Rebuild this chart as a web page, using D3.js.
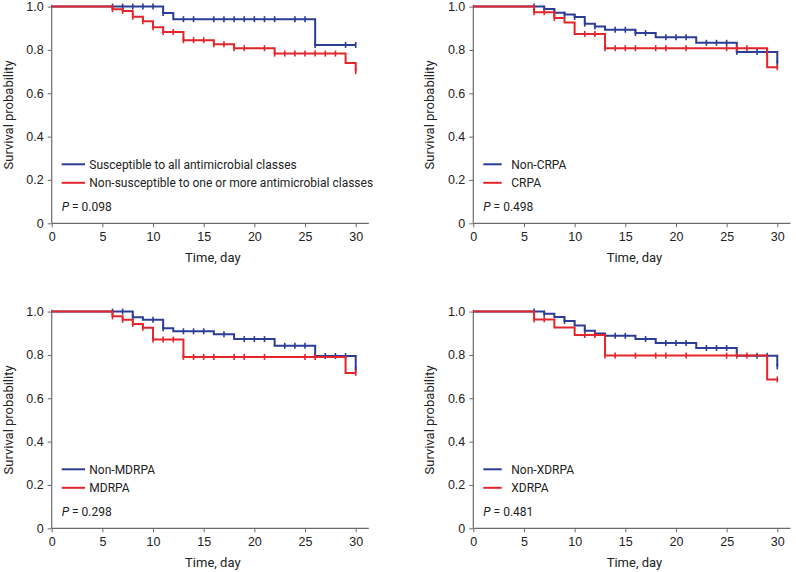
<!DOCTYPE html>
<html><head><meta charset="utf-8">
<script src="https://cdn.jsdelivr.net/npm/d3@7"></script>
<style>body{margin:0;background:#fff}</style>
</head><body>
<svg id="c" width="796" height="572"></svg>
<script>
// ---- data ----
const xTicks = [0, 5, 10, 15, 20, 25, 30];
const yTicks = [0, 0.2, 0.4, 0.6, 0.8, 1.0];
const seriesColors = ["#2c3d96", "#e4262c"];
const legendLabels = [
  ["Susceptible to all antimicrobial classes", "Non-susceptible to one or more antimicrobial classes"],
  ["Non-CRPA", "CRPA"],
  ["Non-MDRPA", "MDRPA"],
  ["Non-XDRPA", "XDRPA"]
];
const pValues = ["0.098", "0.498", "0.298", "0.481"];

// Panel 1: susceptible (blue) vs non-susceptible (red)
const p1BlueTime = [0, 11, 12, 26];
const p1BlueSurv = [1.0, 0.970, 0.942, 0.823];
const p1BlueCens = [6, 7, 8, 9, 10, 11, 13, 14, 16, 17, 18, 19, 20, 21, 22, 24, 25, 26, 29, 30];
const p1RedTime = [0, 6, 7, 8, 9, 10, 11, 13, 16, 18, 22, 29, 30];
const p1RedSurv = [1.0, 0.988, 0.980, 0.953, 0.932, 0.905, 0.883, 0.845, 0.826, 0.808, 0.783, 0.740, 0.702];
const p1RedCens = [6, 7, 8, 9, 10, 11, 12, 13, 14, 15, 16, 17, 18, 19, 21, 22, 23, 24, 25, 26, 27, 28, 30];

// Panel 2: Non-CRPA (blue) vs CRPA (red)
const p2BlueTime = [0, 7, 8, 9, 10, 11, 12, 13, 16, 18, 22, 26, 30];
const p2BlueSurv = [1.0, 0.989, 0.972, 0.963, 0.952, 0.921, 0.908, 0.893, 0.878, 0.858, 0.833, 0.791, 0.737];
const p2BlueCens = [6, 7, 8, 9, 10, 11, 12, 14, 15, 16, 17, 19, 20, 21, 23, 24, 25, 26, 28, 29, 30];
const p2RedTime = [0, 6, 8, 9, 10, 13, 29];
const p2RedSurv = [1.0, 0.974, 0.947, 0.927, 0.874, 0.808, 0.720];
const p2RedCens = [6, 7, 8, 11, 12, 13, 14, 15, 16, 18, 19, 21, 25, 26, 27, 30];

// Panel 3: Non-MDRPA (blue) vs MDRPA (red)
const p3BlueTime = [0, 8, 9, 11, 12, 16, 18, 22, 26, 30];
const p3BlueSurv = [1.0, 0.974, 0.962, 0.923, 0.909, 0.895, 0.873, 0.842, 0.795, 0.731];
const p3BlueCens = [6, 7, 8, 10, 11, 13, 14, 15, 17, 19, 20, 21, 23, 24, 25, 27, 28, 29, 30];
const p3RedTime = [0, 6, 7, 8, 9, 10, 13, 29];
const p3RedSurv = [1.0, 0.978, 0.962, 0.943, 0.926, 0.871, 0.791, 0.717];
const p3RedCens = [6, 7, 8, 9, 10, 11, 12, 13, 14, 15, 16, 18, 19, 21, 25, 26, 30];

// Panel 4: Non-XDRPA (blue) vs XDRPA (red)
const p4BlueTime = [0, 7, 8, 9, 10, 11, 12, 13, 16, 18, 22, 26, 30];
const p4BlueSurv = [1.0, 0.990, 0.975, 0.957, 0.936, 0.912, 0.899, 0.888, 0.874, 0.855, 0.832, 0.796, 0.747];
const p4BlueCens = [6, 7, 9, 11, 12, 14, 15, 17, 19, 20, 21, 23, 24, 25, 28, 29, 30];
const p4RedTime = [0, 6, 8, 10, 13, 29];
const p4RedSurv = [1.0, 0.964, 0.927, 0.892, 0.797, 0.687];
const p4RedCens = [6, 7, 11, 12, 13, 14, 16, 18, 19, 21, 25, 26, 27, 30];

// ---- layout ----
const svg = d3.select("#c");
const PW = 304, PH = 216.7;
const panels = [
  {ox: 51.7, oy: 223.3, short: false, s: [[p1BlueTime, p1BlueSurv, p1BlueCens], [p1RedTime, p1RedSurv, p1RedCens]]},
  {ox: 473.3, oy: 223.3, short: true, s: [[p2BlueTime, p2BlueSurv, p2BlueCens], [p2RedTime, p2RedSurv, p2RedCens]]},
  {ox: 51.7, oy: 528.3, short: false, s: [[p3BlueTime, p3BlueSurv, p3BlueCens], [p3RedTime, p3RedSurv, p3RedCens]]},
  {ox: 473.3, oy: 528.3, short: true, s: [[p4BlueTime, p4BlueSurv, p4BlueCens], [p4RedTime, p4RedSurv, p4RedCens]]}
];
const tickFont = "'Liberation Sans', Arial, sans-serif";
const textFont = "Roboto, 'Noto Sans', sans-serif";
const axisColor = "#6b6b6b";

function survAt(times, surv, t) {
  let v = surv[0];
  for (let i = 0; i < times.length; i++) if (times[i] <= t) v = surv[i];
  return v;
}

panels.forEach((p, pi) => {
  const x = d3.scaleLinear().domain([0, 30]).range([p.ox, p.ox + PW]);
  const y = d3.scaleLinear().domain([0, 1]).range([p.oy, p.oy - PH]);
  const g = svg.append("g");

  // x axis
  const xa = g.append("g").attr("transform", `translate(0,${p.oy})`)
    .call(d3.axisBottom(x).tickValues(xTicks).tickSize(4).tickSizeOuter(0).tickPadding(5).tickFormat(d3.format("d")));
  xa.select(".domain").remove();
  xa.selectAll(".tick line").attr("stroke", axisColor);
  xa.selectAll("text").attr("font-family", tickFont).attr("font-size", 12.5).attr("fill", "#222");
  g.append("line").attr("x1", x(0)).attr("x2", x(31.3)).attr("y1", y(0)).attr("y2", y(0))
    .attr("stroke", axisColor).attr("stroke-width", 1.2);

  // y axis
  const ya = g.append("g").attr("transform", `translate(${p.ox},0)`)
    .call(d3.axisLeft(y).tickValues(yTicks).tickSize(4).tickSizeOuter(0).tickPadding(4)
      .tickFormat(d => d === 0 ? "0" : d3.format(".1f")(d)));
  ya.select(".domain").remove();
  ya.selectAll(".tick line").attr("stroke", axisColor);
  ya.selectAll("text").attr("font-family", tickFont).attr("font-size", 12.5).attr("fill", "#222");
  g.append("line").attr("x1", x(0)).attr("x2", x(0)).attr("y1", y(0)).attr("y2", y(1.008))
    .attr("stroke", axisColor).attr("stroke-width", 1.2);

  // axis titles
  g.append("text").attr("x", x(15.9)).attr("y", p.oy + 39)
    .attr("text-anchor", "middle").attr("font-family", textFont).attr("font-size", 13).attr("fill", "#222")
    .text("Time, day");
  g.append("text").attr("transform", `translate(${p.ox - 39},${y(0.5)}) rotate(-90)`)
    .attr("text-anchor", "middle").attr("font-family", textFont).attr("font-size", 13).attr("fill", "#222")
    .text("Survival probability");

  // curves (blue first, red on top)
  const line = d3.line().x(d => x(d[0])).y(d => y(d[1])).curve(d3.curveStepAfter);
  p.s.forEach((ser, si) => {
    const [times, surv, cens] = ser;
    const pts = times.map((t, i) => [t, surv[i]]);
    if (times[times.length - 1] < 30) pts.push([30, surv[surv.length - 1]]);
    g.append("path").datum(pts).attr("d", line).attr("fill", "none")
      .attr("stroke", seriesColors[si]).attr("stroke-width", 2);
    g.selectAll(null).data(cens).enter().append("line")
      .attr("x1", d => x(d)).attr("x2", d => x(d))
      .attr("y1", d => y(survAt(times, surv, d)) - 3).attr("y2", d => y(survAt(times, surv, d)) + 3)
      .attr("stroke", seriesColors[si]).attr("stroke-width", 1.6);
  });

  // legend
  const lx0 = p.ox + 10, lx1 = p.short ? p.ox + 28.4 : p.ox + 33.3, tx = p.short ? p.ox + 38 : p.ox + 37.6;
  const ly = [p.oy - 59, p.oy - 40.5];
  legendLabels[pi].forEach((lab, si) => {
    g.append("line").attr("x1", lx0).attr("x2", lx1).attr("y1", ly[si]).attr("y2", ly[si])
      .attr("stroke", seriesColors[si]).attr("stroke-width", 2);
    g.append("text").attr("x", tx).attr("y", ly[si]).attr("dy", "0.36em")
      .attr("font-family", textFont).attr("font-size", 12).attr("fill", "#222").text(lab);
  });
  const pt = g.append("text").attr("x", p.ox + 10).attr("y", p.oy - 16.6).attr("dy", "0.36em")
    .attr("font-family", textFont).attr("font-size", 12).attr("fill", "#222");
  pt.append("tspan").attr("font-style", "italic").text("P");
  pt.append("tspan").text(" = " + pValues[pi]);
});
</script>
</body></html>
